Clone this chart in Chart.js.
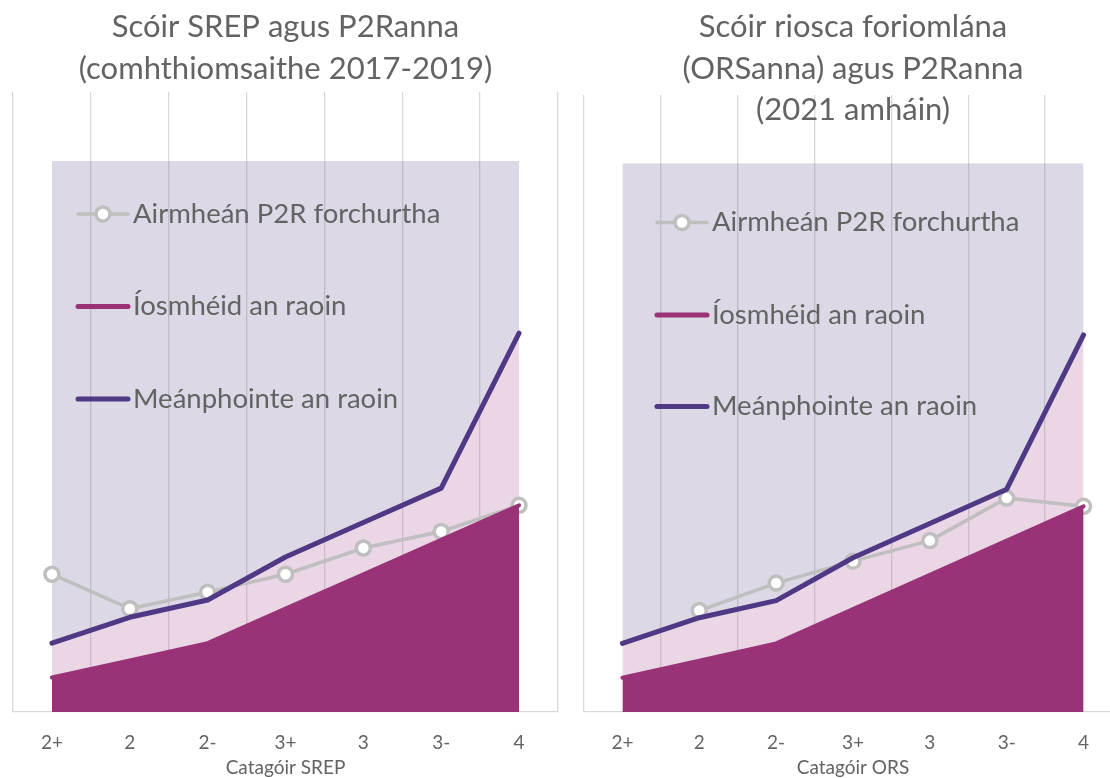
<!DOCTYPE html>
<html>
<head>
<meta charset="utf-8">
<script src="https://cdn.jsdelivr.net/npm/chart.js@4.4.0/dist/chart.umd.min.js"></script>
<style>
    html, body {
        margin: 0;
        padding: 0;
        background: #ffffff;
        width: 1110px;
        height: 778px;
        overflow: hidden;
    }
    .panel {
        position: absolute;
        top: 0;
    }
    #panel-srep {
        left: 0;
    }
    #panel-ors {
        left: 570px;
    }
</style>
</head>
<body>
<div class="panel" id="panel-srep"><canvas id="chartSrep" width="570" height="800"></canvas></div>
<div class="panel" id="panel-ors"><canvas id="chartOrs" width="570" height="800"></canvas></div>
<script>
// categories on the x axis
var categories = ['2+', '2', '2-', '3+', '3', '3-', '4'];

// range of the P2R for each category (%)
var rangeMin = [0.25, 0.375, 0.5, 0.75, 1.0, 1.25, 1.5];
var rangeMid = [0.5, 0.6875, 0.8125, 1.125, 1.375, 1.625, 2.75];
var rangeTop = [4.0, 4.0, 4.0, 4.0, 4.0, 4.0, 4.0];

// weighted average P2R
var p2rSrep = [1.0, 0.75, 0.87, 1.0, 1.19, 1.31, 1.5];
var p2rOrs = [null, 0.74, 0.94, 1.1, 1.25, 1.56, 1.5];

var titleSrep = ['Scóir SREP agus P2Ranna', '(comhthiomsaithe 2017-2019)'];
var titleOrs = ['Scóir riosca foriomlána', '(ORSanna) agus P2Ranna', '(2021 amháin)'];

var labelP2r = 'Airmheán P2R forchurtha';
var labelMin = 'Íosmhéid an raoin';
var labelMid = 'Meánphointe an raoin';

var textGrey = '#636363';
var fontName = 'Lato, "Open Sans", sans-serif';

var colMagenta = '#9a3277';
var colPurple = '#4f3884';
var colGrey = '#bfbfbf';

// titles drawn over the plot, like the original
var titlePlugin = {
    id: 'panelTitle',
    afterDraw: function (chart, args, opts) {
        var ctx = chart.ctx;
        var area = chart.chartArea;
        var cx = (area.left + area.right) / 2;
        ctx.save();
        ctx.font = '31px ' + fontName;
        ctx.fillStyle = textGrey;
        ctx.textAlign = 'center';
        ctx.textBaseline = 'alphabetic';
        opts.lines.forEach(function (line, i) {
            ctx.fillText(line, cx, opts.baseline + i * opts.step);
        });
        ctx.restore();
    }
};

// legend placed inside the plot area
var insideLegend = {
    id: 'insideLegend',
    afterDraw: function (chart, args, opts) {
        var ctx = chart.ctx;
        var items = chart.data.datasets.filter(function (ds) {
            return ds.inLegend;
        });
        ctx.save();
        ctx.font = '27.5px ' + fontName;
        ctx.textBaseline = 'middle';
        ctx.textAlign = 'left';
        items.forEach(function (ds, i) {
            var y = opts.rows[i];
            ctx.strokeStyle = ds.borderColor;
            ctx.lineWidth = ds.legendWidth;
            ctx.lineCap = 'round';
            ctx.beginPath();
            ctx.moveTo(opts.x, y);
            ctx.lineTo(opts.x + 50, y);
            ctx.stroke();
            if (ds.pointRadius > 0) {
                ctx.beginPath();
                ctx.arc(opts.x + 25, y, ds.pointRadius, 0, Math.PI * 2);
                ctx.fillStyle = ds.pointBackgroundColor;
                ctx.fill();
                ctx.lineWidth = ds.pointBorderWidth;
                ctx.strokeStyle = ds.pointBorderColor;
                ctx.stroke();
            }
            ctx.fillStyle = textGrey;
            ctx.fillText(ds.label, opts.x + 55, y);
        });
        ctx.restore();
    }
};

function makeChart(canvasId, p2rData, titleLines, axisTitle, pad, legendPos) {
    var ctx = document.getElementById(canvasId).getContext('2d');
    return new Chart(ctx, {
        type: 'line',
        data: {
            labels: categories,
            datasets: [{
                label: labelP2r,
                data: p2rData,
                inLegend: true,
                legendWidth: 3.5,
                borderColor: colGrey,
                borderWidth: 3.5,
                pointRadius: 7,
                pointBackgroundColor: '#ffffff',
                pointBorderColor: colGrey,
                pointBorderWidth: 3.5,
                fill: false,
                order: 4
            }, {
                label: labelMin,
                data: rangeMin,
                inLegend: true,
                legendWidth: 5,
                borderColor: colMagenta,
                borderWidth: 4,
                backgroundColor: colMagenta,
                pointRadius: 0,
                fill: 'origin',
                order: 3
            }, {
                label: labelMid,
                data: rangeMid,
                inLegend: true,
                legendWidth: 5,
                borderColor: colPurple,
                borderWidth: 5,
                pointRadius: 0,
                fill: false,
                order: 2
            }, {
                label: 'range upper',
                data: rangeMid,
                borderWidth: 0,
                pointRadius: 0,
                backgroundColor: 'rgba(171, 91, 147, 0.25)',
                fill: 1,
                order: 5
            }, {
                label: 'shade',
                data: rangeTop,
                borderWidth: 0,
                pointRadius: 0,
                backgroundColor: 'rgba(115, 99, 155, 0.25)',
                fill: 3,
                order: 6
            }]
        },
        options: {
            responsive: false,
            animation: false,
            layout: {
                padding: pad
            },
            elements: {
                line: {
                    tension: 0,
                    borderJoinStyle: 'round',
                    borderCapStyle: 'round'
                }
            },
            scales: {
                x: {
                    offset: true,
                    grid: {
                        offset: true,
                        color: '#d9d9d9',
                        lineWidth: 1.3,
                        drawTicks: false
                    },
                    border: {
                        color: '#d9d9d9',
                        width: 1.3
                    },
                    ticks: {
                        color: textGrey,
                        padding: 19,
                        font: {
                            family: fontName,
                            size: 19
                        }
                    },
                    title: {
                        display: true,
                        text: axisTitle,
                        color: textGrey,
                        padding: {
                            top: 0,
                            bottom: 21
                        },
                        font: {
                            family: fontName,
                            size: 19
                        }
                    },
                    afterFit: function (axis) {
                        axis.height = 88;
                    }
                },
                y: {
                    display: false,
                    min: 0,
                    max: 4.5
                }
            },
            plugins: {
                legend: {
                    display: false
                },
                tooltip: {
                    enabled: false
                },
                panelTitle: {
                    lines: titleLines,
                    baseline: 37,
                    step: 41.5
                },
                insideLegend: legendPos
            }
        },
        plugins: [titlePlugin, insideLegend]
    });
}

makeChart('chartSrep', p2rSrep, titleSrep, 'Catagóir SREP',
    {top: 92, left: 13, right: 12, bottom: 0},
    {x: 78, rows: [214, 306.5, 399]});

makeChart('chartOrs', p2rOrs, titleOrs, 'Catagóir ORS',
    {top: 95, left: 14, right: 18, bottom: 0},
    {x: 87, rows: [222.5, 315, 406.5]});
</script>
</body>
</html>
